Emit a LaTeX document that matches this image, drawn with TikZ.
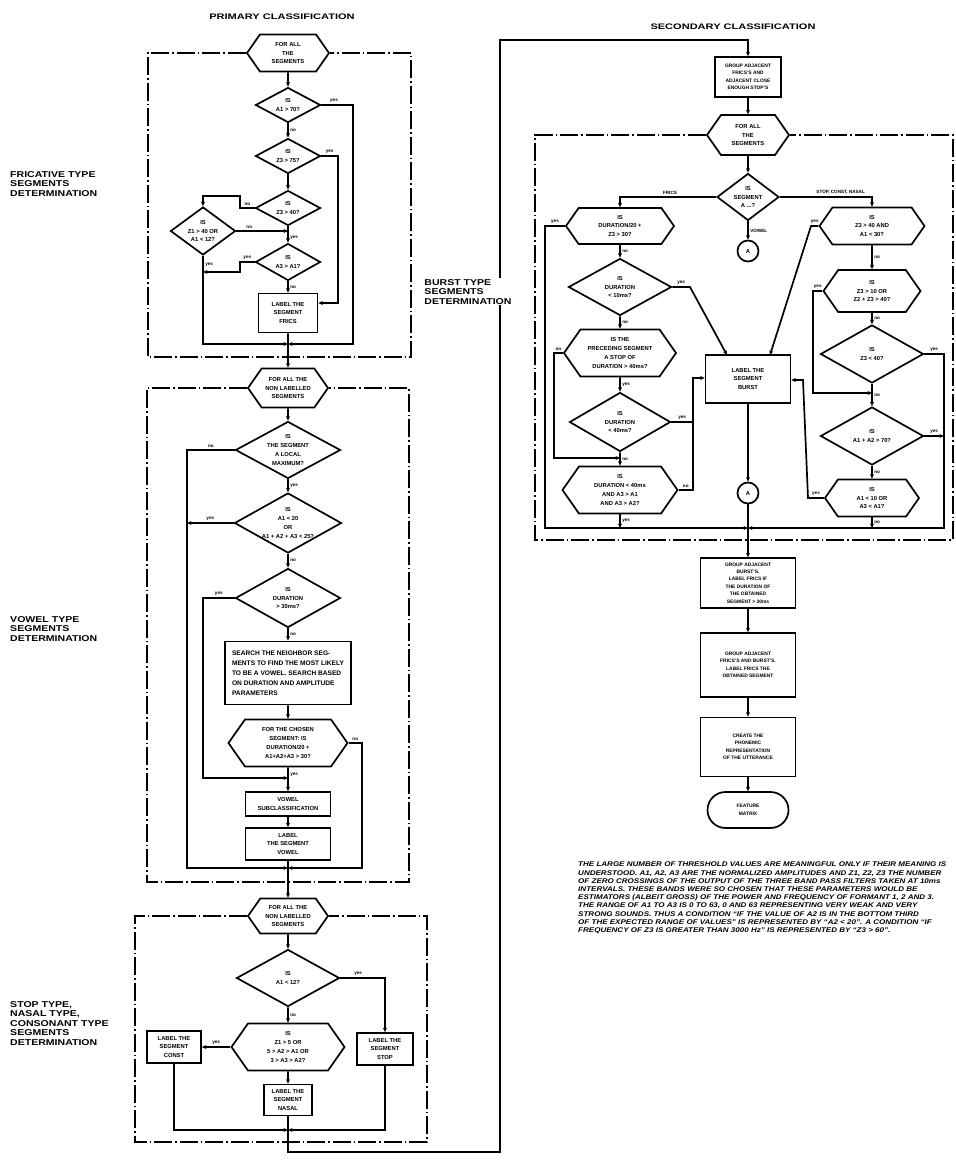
\documentclass[tikz,border=0pt]{standalone}
\usepackage{fontspec}
\setsansfont{Liberation Sans}
\usepackage{tikz}
\usetikzlibrary{arrows.meta, shapes.geometric, shapes.symbols, shapes.misc}

\begin{document}
\begin{tikzpicture}[
  >=Stealth, x=1pt, y=-1pt,
  every node/.style={font=\fontsize{5.8}{8.8}\selectfont\sffamily\bfseries},
  small/.style={font=\fontsize{4.9}{7.4}\selectfont\sffamily\bfseries},
  sz/.style 2 args={minimum width=#1pt, minimum height=#2pt},
  pbox/.style={draw, line width=1.7pt, align=center, inner sep=1pt},
  dec/.style={diamond, draw, line width=1.7pt, align=center, inner sep=-2pt, aspect=1.8},
  hexa/.style={signal, signal to=west and east, signal pointer angle=110,
               draw, line width=1.7pt, align=center, inner sep=1pt},
  term/.style={rounded rectangle, draw, line width=1.7pt, align=center, inner sep=1pt},
  con/.style={circle, draw, line width=1.7pt, minimum size=21pt, inner sep=0pt},
  conn/.style={line width=1.7pt},
  flow/.style={conn, -{Stealth[length=4.5pt,width=4pt]}},
  frame/.style={line width=1.4pt, dash pattern=on 18pt off 3pt on 1.5pt off 3pt},
  yn/.style={font=\fontsize{4.6}{5}\selectfont\sffamily\bfseries, inner sep=1.5pt},
  side/.style={font=\fontsize{8.5}{9.6}\selectfont\sffamily\bfseries, align=left,
               inner sep=0pt, xscale=1.24},
  ttl/.style={font=\fontsize{8}{9}\selectfont\sffamily\bfseries, inner sep=0pt, xscale=1.38}
]
\useasboundingbox (0,0) rectangle (956,1163);

% primary classification
\node[ttl] (ttlP) at (282,17) {PRIMARY CLASSIFICATION};
\node[side, anchor=north west] (sFric) at (10,171) {FRICATIVE TYPE\\SEGMENTS\\DETERMINATION};
\node[side, anchor=north west] (sVow) at (10,616) {VOWEL TYPE\\SEGMENTS\\DETERMINATION};
\node[side, anchor=north west] (sStop) at (10,1001)
  {STOP TYPE,\\NASAL TYPE,\\CONSONANT TYPE\\SEGMENTS\\DETERMINATION};

\node[hexa, sz={82}{37}] (hA) at (288,53) {FOR ALL\\THE\\SEGMENTS};
\node[dec, sz={65}{35}] (d1) at (288,105) {IS\\A1 > 70?};
\node[dec, sz={65}{35}] (d2) at (288,156) {IS\\Z3 > 75?};
\node[dec, sz={65}{35}] (d3) at (288,208) {IS\\Z3 > 40?};
\node[dec, sz={65}{48}, aspect=1.4] (d4) at (203,231) {IS\\Z1 > 40 OR\\A1 < 12?};
\node[dec, sz={65}{37}] (d5) at (288,262) {IS\\A3 > A1?};
\node[pbox, sz={59}{39}] (lFric) at (288,313) {LABEL THE\\SEGMENT\\FRICS};

\node[hexa, sz={80}{39}] (hB) at (288,388) {FOR ALL THE\\NON LABELLED\\SEGMENTS};
\node[dec, sz={105}{57}] (d6) at (288,450) {IS\\THE SEGMENT\\A LOCAL\\MAXIMUM?};
\node[dec, sz={107}{60}] (d7) at (288,523) {IS\\A1 < 20\\OR\\A1 + A2 + A3 < 25?};
\node[dec, sz={105}{59}] (d8) at (288,598) {IS\\DURATION\\> 30ms?};
\node[pbox, sz={126}{63}, align=left, font=\fontsize{6.6}{10}\selectfont\sffamily\bfseries]
  (srch) at (288,673) {SEARCH THE NEIGHBOR SEG-\\MENTS TO FIND THE MOST LIKELY\\TO BE A VOWEL. SEARCH BASED\\ON DURATION AND AMPLITUDE\\PARAMETERS};
\node[hexa, sz={119}{47}] (hC) at (288,743) {FOR THE CHOSEN\\SEGMENT: IS\\DURATION/20 +\\A1+A2+A3 > 30?};
\node[pbox, sz={85}{24}] (vSub) at (288,804) {VOWEL\\SUBCLASSIFICATION};
\node[pbox, sz={85}{32}] (lVow) at (288,844) {LABEL\\THE SEGMENT\\VOWEL};

\node[hexa, sz={80}{35}] (hD) at (288,916) {FOR ALL THE\\NON LABELLED\\SEGMENTS};
\node[dec, sz={103}{57}] (d9) at (288,978) {IS\\A1 < 12?};
\node[hexa, sz={113}{47}] (hE) at (288,1047) {IS\\Z1 > 5 OR\\5 > A2 > A1 OR\\3 > A3 > A2?};
\node[pbox, sz={54}{32}] (lCon) at (174,1047) {LABEL THE\\SEGMENT\\CONST};
\node[pbox, sz={56}{32}] (lStp) at (385,1049) {LABEL THE\\SEGMENT\\STOP};
\node[pbox, sz={48}{31}] (lNas) at (288,1100) {LABEL THE\\SEGMENT\\NASAL};

% secondary classification
\node[ttl] (ttlS) at (733,27) {SECONDARY CLASSIFICATION};
\node[pbox, small, sz={66}{40}] (gF) at (748,77) {GROUP ADJACENT\\FRICS'S AND\\ADJACENT CLOSE\\ENOUGH STOP'S};
\node[hexa, sz={82}{40}] (hF) at (748,135) {FOR ALL\\THE\\SEGMENTS};
\node[dec, sz={62}{47}, aspect=1.3] (d10) at (748,197) {IS\\SEGMENT\\A ...?};
\node[con] (cA1) at (748,251) {A};
\node[hexa, sz={108}{36}] (hG) at (620,226) {IS\\DURATION/20 +\\Z3 > 30?};
\node[dec, sz={103}{57}] (d11) at (620,287) {IS\\DURATION\\< 10ms?};
\node[hexa, sz={112}{47}] (hH) at (620,353) {IS THE\\PRECEDING SEGMENT\\A STOP OF\\DURATION > 40ms?};
\node[dec, sz={101}{59}] (d12) at (620,422) {IS\\DURATION\\< 40ms?};
\node[hexa, sz={115}{47}] (hI) at (620,490) {IS\\DURATION < 40ms\\AND A3 > A1\\AND A3 > A2?};
\node[pbox, sz={85}{48}] (lBur) at (748,379) {LABEL THE\\SEGMENT\\BURST};
\node[con] (cA2) at (748,493) {A};
\node[hexa, sz={105}{37}] (hJ) at (872,226) {IS\\Z3 > 40 AND\\A1 < 30?};
\node[hexa, sz={97}{42}] (hK) at (872,291) {IS\\Z3 > 10 OR\\Z2 + Z3 > 40?};
\node[dec, sz={103}{58}] (d13) at (872,354) {IS\\Z3 < 40?};
\node[dec, sz={103}{58}] (d14) at (872,436) {IS\\A1 + A2 > 70?};
\node[hexa, sz={94}{37}] (hL) at (872,498) {IS\\A1 < 10 OR\\A3 < A1?};

\node[pbox, small, sz={95}{50}] (gB) at (748,583)
  {GROUP ADJACENT\\BURST'S.\\LABEL FRICS IF\\THE DURATION OF\\THE OBTAINED\\SEGMENT > 30ms};
\node[pbox, small, sz={95}{64}] (gFB) at (748,665) {GROUP ADJACENT\\FRICS'S AND BURST'S.\\LABEL FRICS THE\\OBTAINED SEGMENT};
\node[pbox, small, sz={95}{59}] (crt) at (748,747) {CREATE THE\\PHONEMIC\\REPRESENTATION\\OF THE UTTERANCE};
\node[term, small, sz={83}{36}] (fMat) at (748,810) {FEATURE\\MATRIX};

\node[anchor=north west, align=left, inner sep=0pt, xscale=1.18,
      font=\fontsize{6.8}{8.2}\selectfont\sffamily\bfseries\itshape] (note) at (578,862)
  {THE LARGE NUMBER OF THRESHOLD VALUES ARE MEANINGFUL ONLY IF THEIR MEANING IS\\
   UNDERSTOOD. A1, A2, A3 ARE THE NORMALIZED AMPLITUDES AND Z1, Z2, Z3 THE NUMBER\\
   OF ZERO CROSSINGS OF THE OUTPUT OF THE THREE BAND PASS FILTERS TAKEN AT 10ms\\
   INTERVALS. THESE BANDS WERE SO CHOSEN THAT THESE PARAMETERS WOULD BE\\
   ESTIMATORS (ALBEIT GROSS) OF THE POWER AND FREQUENCY OF FORMANT 1, 2 AND 3.\\
   THE RANGE OF A1 TO A3 IS 0 TO 63, 0 AND 63 REPRESENTING VERY WEAK AND VERY\\
   STRONG SOUNDS. THUS A CONDITION ``IF THE VALUE OF A2 IS IN THE BOTTOM THIRD\\
   OF THE EXPECTED RANGE OF VALUES'' IS REPRESENTED BY ``A2 < 20''. A CONDITION ``IF\\
   FREQUENCY OF Z3 IS GREATER THAN 3000 Hz'' IS REPRESENTED BY ``Z3 > 60''.};

% bends and junctions
\coordinate (jF) at (288,344);  \coordinate (jFr) at (353,344);
\coordinate (jFl) at (203,344); \coordinate (b2r) at (338,303);
\coordinate (b3a) at (240,196); \coordinate (b5a) at (240,272);
\coordinate (b6) at (187,868);  \coordinate (jV) at (288,868);
\coordinate (b8) at (203,778);  \coordinate (jS) at (288,778);
\coordinate (bC) at (362,868);
\coordinate (jC) at (288,1130); \coordinate (jO) at (288,1152);
\coordinate (rO) at (500,1152); \coordinate (rT) at (500,40);
\coordinate (jB) at (748,528);  \coordinate (bG) at (545,528);
\coordinate (bH) at (554,458);  \coordinate (bD12) at (693,378);
\coordinate (bD11) at (690,287); \coordinate (bIn1) at (727,355);
\coordinate (bIn2) at (770,355); \coordinate (bJ) at (811,226);
\coordinate (bK) at (813,393);  \coordinate (b13) at (944,528);
\coordinate (bL2) at (808,498); \coordinate (bL) at (803,380);
\coordinate (f1a) at (148,357); \coordinate (f1b) at (411,357);
\coordinate (f2a) at (147,882); \coordinate (f2b) at (409,882);
\coordinate (f3a) at (135,1142); \coordinate (f3b) at (427,1142);
\coordinate (f4a) at (535,540); \coordinate (f4b) at (953,540);

% loops
\draw[frame] (hA.west) -| (f1a) -- (f1b) |- (hA.east);
\draw[frame] (hB.west) -| (f2a) -- (f2b) |- (hB.east);
\draw[frame] (hD.west) -| (f3a) -- (f3b) |- (hD.east);
\draw[frame] (hF.west) -| (f4a) -- (f4b) |- (hF.east);

% fricative
\draw[flow] (hA) -- (d1);
\draw[flow] (d1) -- node[yn, right]{no} (d2);
\draw[flow] (d1.east) -| node[yn, above, pos=0.2]{yes} (jFr) -- (jF);
\draw[flow] (d2.east) -| node[yn, above, pos=0.25]{yes} (b2r) -- (b2r -| lFric.east);
\draw[flow] (d2) -- (d3);
\draw[flow] (d3.west) -- node[yn, above]{no} (d3.west -| b3a) -- (b3a) -| (d4.north);
\draw[flow] (d3) -- node[yn, right, pos=0.7]{yes} (d5);
\draw[flow] (d4.east) -- node[yn, above, pos=0.25]{no} (d4.east -| d3.south);
\draw[flow] (d5.west) -- node[yn, above]{yes} (d5.west -| b5a) -- (b5a) -- (b5a -| d4.south);
\draw[flow] (d4.south) -- node[yn, right, pos=0.1]{yes} (jFl) -- (jF);
\draw[flow] (d5) -- node[yn, right]{no} (lFric);
\draw[flow] (lFric) -- (hB);

% vowel
\draw[flow] (hB) -- (d6);
\draw[flow] (d6.west) -- node[yn, above, pos=0.5]{no} (d6.west -| b6) -- (b6) -- (jV);
\draw[flow] (d6) -- node[yn, right]{yes} (d7);
\draw[flow] (d7.west) -- node[yn, above]{yes} (d7.west -| b6);
\draw[flow] (d7) -- node[yn, right]{no} (d8);
\draw[flow] (d8.west) -- node[yn, above]{yes} (d8.west -| b8) -- (b8) -- (jS);
\draw[flow] (d8) -- node[yn, right]{no} (srch);
\draw[flow] (srch) -- (hC);
\draw[flow] (hC.east) -- node[yn, above]{no} (hC.east -| bC) -- (bC) -- (jV);
\draw[flow] (hC) -- node[yn, right, pos=0.3]{yes} (vSub);
\draw[flow] (vSub) -- (lVow);
\draw[flow] (lVow) -- (hD);

% stop, nasal, consonant
\draw[flow] (hD) -- (d9);
\draw[flow] (d9.east) -| node[yn, above, pos=0.2]{yes} (lStp.north);
\draw[flow] (d9) -- node[yn, right]{no} (hE);
\draw[flow] (hE.west) -- node[yn, above]{yes} (lCon.east);
\draw[flow] (hE) -- (lNas);
\draw[flow] (lCon.south) |- (jC);
\draw[flow] (lStp.south) |- (jC);
\draw[flow] (lNas) -- (jO) -- (rO) -- (rT) -| (gF.north);

% burst
\draw[flow] (gF) -- (hF);
\draw[flow] (hF) -- (d10);
\draw[flow] (d10.west) -| node[yn, above, pos=0.24]{FRICS} (hG.north);
\draw[flow] (d10.east) -| node[yn, above, pos=0.33]{STOP, CONST, NASAL} (hJ.north);
\draw[flow] (d10) -- node[yn, right]{VOWEL} (cA1);
\draw[flow] (hG.west) -- node[yn, above]{yes} (hG.west -| bG) -- (bG) -- (jB);
\draw[flow] (hG) -- node[yn, right]{no} (d11);
\draw[flow] (d11.east) -- node[yn, above]{yes} (bD11) -- (bIn1);
\draw[flow] (d11) -- node[yn, right]{no} (hH);
\draw[flow] (hH.west) -- node[yn, above]{no} (hH.west -| bH) -- (bH) -- (bH -| hI.north);
\draw[flow] (hH) -- node[yn, right]{yes} (d12);
\draw[flow] (d12.east) -- node[yn, above]{yes} (d12.east -| bD12) -- (bD12) -- (bD12 -| lBur.west);
\draw[conn] (hI.east) -- node[yn, above]{no} (hI.east -| bD12) -- (d12.east -| bD12);
\draw[flow] (d12) -- node[yn, right]{no} (hI);
\draw[flow] (hI) -- node[yn, right]{yes} (hI.south |- jB);
\draw[flow] (lBur) -- (cA2);
\draw[flow] (hJ.west) -- node[yn, above]{yes} (bJ) -- (bIn2);
\draw[flow] (hJ) -- node[yn, right]{no} (hK);
\draw[flow] (hK.west) -- node[yn, above]{yes} (hK.west -| bK) -- (bK) -- (bK -| d14.north);
\draw[flow] (hK) -- node[yn, right]{no} (d13);
\draw[flow] (d13.east) -- node[yn, above]{yes} (d13.east -| b13) -- (b13) -- (jB);
\draw[flow] (d13) -- node[yn, right]{no} (d14);
\draw[flow] (d14.east) -- node[yn, above]{yes} (d14.east -| b13);
\draw[flow] (d14) -- node[yn, right]{no} (hL);
\draw[flow] (hL.west) -- node[yn, above]{yes} (bL2) -- (bL) -- (bL -| lBur.east);
\draw[flow] (hL) -- node[yn, right]{no} (hL.south |- jB);
\draw[flow] (cA2) -- (gB);
\draw[flow] (gB) -- (gFB);
\draw[flow] (gFB) -- (crt);
\draw[flow] (crt) -- (fMat);

\node[side, anchor=north west, fill=white, inner sep=1pt] (sBur) at (423,278) {BURST TYPE\\SEGMENTS\\DETERMINATION};
\end{tikzpicture}
\end{document}
